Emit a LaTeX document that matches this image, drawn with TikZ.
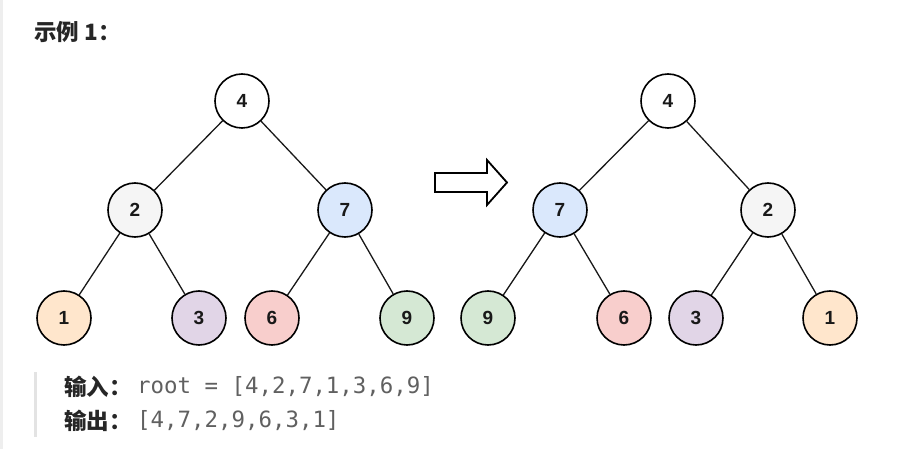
\documentclass[tikz,border=0pt]{standalone}
\usepackage{fontspec}
\setmainfont{Liberation Sans}
\newfontfamily\cjkfont{Noto Sans CJK SC}
\newfontfamily\monofont{DejaVu Sans Mono}
\definecolor{pagebar}{HTML}{EEEEEE}
\definecolor{quotebar}{HTML}{E3E3E3}
\definecolor{titlec}{HTML}{262626}
\definecolor{codec}{HTML}{606060}
\definecolor{cGray}{HTML}{F5F5F5}
\definecolor{cBlue}{HTML}{DAE8FC}
\definecolor{cOrange}{HTML}{FFE6CC}
\definecolor{cPurple}{HTML}{E1D5E7}
\definecolor{cRed}{HTML}{F8CECC}
\definecolor{cGreen}{HTML}{D5E8D4}
\begin{document}
\begin{tikzpicture}[x=1pt,y=-1pt,
  tnode/.style={circle,draw=black,line width=1.6pt,minimum size=54pt,inner sep=0pt,
    font=\bfseries\fontsize{19}{19}\selectfont,text=black!90},
  tedge/.style={line width=1.3pt,draw=black!90},
  cjklabel/.style={anchor=west,inner sep=0pt,text=titlec,font=\cjkfont\bfseries\fontsize{22.5}{22.5}\selectfont},
  codetext/.style={anchor=west,inner sep=0pt,text=codec,font=\monofont\fontsize{22.4}{22.4}\selectfont},
  blockarrow/.style={draw=black,line width=1.8pt,fill=white,line join=miter}]
\fill[white] (0,0) rectangle (903,449);
\useasboundingbox (0,0) rectangle (903,449);
\fill[pagebar] (0,0) rectangle (2.5,449);
\fill[quotebar] (34,372) rectangle (37,437);

% title
\node[cjklabel] (title) at (34,32) {示例 1：};

% left tree
\node[tnode] (L4) at (242,101) {4};
\node[tnode,fill=cGray] (L2) at (135,210) {2};
\node[tnode,fill=cBlue] (L7) at (345,210) {7};
\node[tnode,fill=cOrange] (L1) at (64,318) {1};
\node[tnode,fill=cPurple] (L3) at (199,318) {3};
\node[tnode,fill=cRed] (L6) at (272,318) {6};
\node[tnode,fill=cGreen] (L9) at (407,318) {9};
\draw[tedge] (L4) -- (L2);
\draw[tedge] (L4) -- (L7);
\draw[tedge] (L2) -- (L1);
\draw[tedge] (L2) -- (L3);
\draw[tedge] (L7) -- (L6);
\draw[tedge] (L7) -- (L9);

% arrow
\draw[blockarrow] (435,173) -- (487,173) -- (487,160) -- (507,182.5) -- (487,205) -- (487,192) -- (435,192) -- cycle;

% right tree
\node[tnode] (R4) at (668,101) {4};
\node[tnode,fill=cBlue] (R7) at (560,210) {7};
\node[tnode,fill=cGray] (R2) at (768,210) {2};
\node[tnode,fill=cGreen] (R9) at (488,318) {9};
\node[tnode,fill=cRed] (R6) at (624,318) {6};
\node[tnode,fill=cPurple] (R3) at (696,318) {3};
\node[tnode,fill=cOrange] (R1) at (830,318) {1};
\draw[tedge] (R4) -- (R7);
\draw[tedge] (R4) -- (R2);
\draw[tedge] (R7) -- (R9);
\draw[tedge] (R7) -- (R6);
\draw[tedge] (R2) -- (R3);
\draw[tedge] (R2) -- (R1);

% text
\node[cjklabel] (in) at (64,387) {输入：};
\node[codetext] (incode) at (137,387) {root = [4,2,7,1,3,6,9]};
\node[cjklabel] (out) at (64,421) {输出：};
\node[codetext] (outcode) at (137,421) {[4,7,2,9,6,3,1]};
\end{tikzpicture}
\end{document}
